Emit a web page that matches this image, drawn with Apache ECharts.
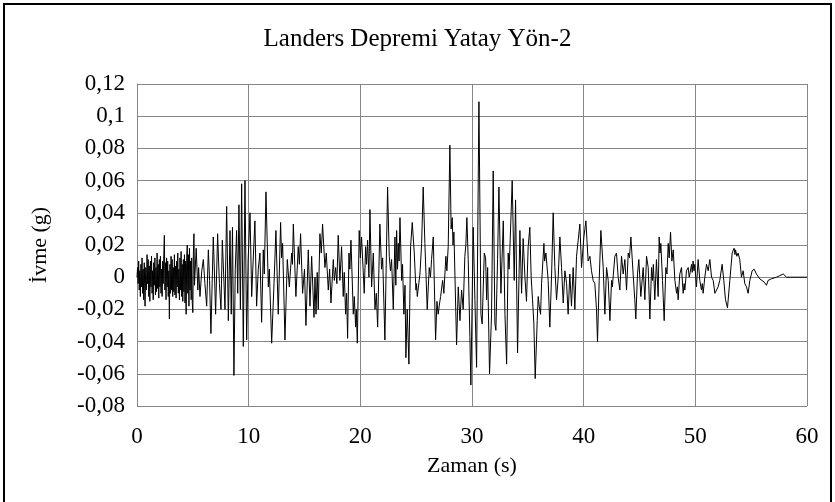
<!DOCTYPE html>
<html>
<head>
<meta charset="utf-8">
<script src="https://cdn.jsdelivr.net/npm/echarts@6/dist/echarts.min.js"></script>
<style>
html,body{margin:0;padding:0;background:#fff;}
#c{width:835px;height:502px;}
</style>
</head>
<body>
<div id="c"></div>
<script>
var titleText = "Landers Depremi Yatay Yön-2";
var xName = "Zaman (s)";
var yName = "İvme (g)";
var xTicks = [0, 10, 20, 30, 40, 50, 60];
var yTicks = [-0.08, -0.06, -0.04, -0.02, 0, 0.02, 0.04, 0.06, 0.08, 0.1, 0.12];

var time = [
0.00,0.05,0.10,0.15,0.20,0.25,0.30,0.35,0.40,0.45,0.50,0.55,0.60,0.65,0.72,0.78,0.85,0.90,0.95,1.00,
1.05,1.10,1.15,1.20,1.25,1.30,1.35,1.40,1.45,1.50,1.55,1.60,1.65,1.70,1.75,1.80,1.85,1.90,1.95,2.00,
2.05,2.10,2.15,2.20,2.25,2.30,2.35,2.40,2.45,2.50,2.55,2.60,2.65,2.70,2.75,2.80,2.85,2.90,2.95,3.00,
3.05,3.10,3.15,3.20,3.25,3.30,3.35,3.40,3.45,3.50,3.55,3.60,3.65,3.70,3.75,3.80,3.85,3.90,3.95,4.00,
4.05,4.10,4.15,4.20,4.25,4.30,4.35,4.40,4.45,4.50,4.55,4.60,4.65,4.70,4.75,4.80,4.85,4.90,4.95,5.00,
5.05,5.10,5.15,5.30,5.45,5.52,5.64,5.80,5.94,6.08,6.24,6.39,6.50,6.62,6.83,6.94,7.04,7.22,7.38,7.52,
7.64,7.76,7.88,8.03,8.18,8.33,8.44,8.55,8.68,8.80,8.92,9.02,9.13,9.26,9.37,9.52,9.67,9.82,9.95,10.12,
10.27,10.40,10.56,10.71,10.86,11.01,11.16,11.31,11.40,11.55,11.76,11.85,12.06,12.27,12.44,12.65,12.86,12.95,13.04,13.25,
13.46,13.64,13.85,13.92,14.00,14.23,14.44,14.54,14.65,14.83,15.00,15.13,15.34,15.49,15.64,15.85,15.94,16.03,16.14,16.23,
16.38,16.50,16.62,16.83,16.95,17.13,17.25,17.37,17.58,17.67,17.79,17.90,18.02,18.17,18.32,18.47,18.56,18.68,18.77,18.86,
18.98,19.06,19.16,19.37,19.46,19.58,19.64,19.73,19.90,20.00,20.11,20.35,20.47,20.56,20.65,20.77,20.86,21.01,21.16,21.31,
21.43,21.55,21.75,21.90,22.00,22.20,22.44,22.59,22.70,22.80,22.95,23.10,23.18,23.25,23.33,23.40,23.47,23.55,23.70,23.78,
23.90,24.00,24.08,24.20,24.35,24.50,24.65,24.83,24.98,25.03,25.10,25.34,25.49,25.63,25.78,25.99,26.17,26.28,26.38,26.53,
26.74,26.86,26.97,27.10,27.19,27.37,27.48,27.66,27.75,27.87,28.02,28.13,28.23,28.30,28.38,28.62,28.77,28.92,29.07,29.21,
29.36,29.45,29.54,29.66,29.81,29.90,30.11,30.26,30.41,30.62,30.80,30.91,31.10,31.22,31.31,31.40,31.57,31.75,31.90,32.05,
32.14,32.29,32.41,32.59,32.80,32.95,33.10,33.24,33.32,33.39,33.60,33.78,33.90,34.08,34.29,34.44,34.58,34.74,34.88,35.03,
35.18,35.30,35.42,35.54,35.66,35.84,35.93,36.02,36.14,36.23,36.44,36.50,36.62,36.82,36.97,37.13,37.27,37.42,37.57,37.72,
37.87,38.02,38.17,38.32,38.47,38.61,38.76,38.91,39.06,39.21,39.36,39.51,39.66,39.81,40.02,40.20,40.40,40.56,40.70,40.85,
41.00,41.15,41.24,41.39,41.54,41.75,41.90,42.05,42.20,42.35,42.50,42.57,42.64,42.79,42.94,43.09,43.24,43.39,43.54,43.69,
43.84,43.99,44.10,44.23,44.43,44.58,44.67,44.82,44.94,45.12,45.33,45.48,45.63,45.78,45.93,46.08,46.16,46.24,46.37,46.52,
46.67,46.76,46.84,46.91,47.06,47.21,47.36,47.46,47.57,47.66,47.78,47.90,48.02,48.17,48.32,48.40,48.46,48.61,48.76,48.91,
49.00,49.06,49.21,49.36,49.45,49.51,49.66,49.72,49.80,49.88,49.95,50.10,50.25,50.40,50.55,50.62,50.70,50.85,51.00,51.15,
51.30,51.45,51.60,51.75,51.90,52.04,52.19,52.40,52.55,52.70,52.88,53.09,53.30,53.47,53.55,53.60,53.72,53.83,53.98,54.13,
54.28,54.43,54.58,54.73,54.88,55.09,55.27,55.47,55.62,55.77,55.92,56.16,56.37,56.52,56.82,57.27,57.57,57.87,58.17,58.50,
59.00,60.00
];

var accel = [
0.000,0.006,-0.004,0.010,-0.008,0.004,-0.012,0.008,-0.006,0.012,-0.010,0.005,-0.014,0.009,-0.018,0.006,-0.008,0.014,-0.004,0.011,
-0.012,0.007,-0.015,0.010,-0.006,0.013,-0.010,0.004,-0.014,0.009,-0.005,0.012,-0.011,0.006,-0.009,0.015,-0.007,0.008,-0.013,0.011,
-0.006,0.013,-0.010,0.005,-0.012,0.010,-0.004,0.014,0.026,-0.008,0.009,-0.014,0.012,-0.006,0.010,-0.012,0.004,-0.026,0.008,-0.010,
0.013,-0.008,0.011,-0.012,0.006,-0.009,0.014,-0.011,0.007,-0.013,0.010,-0.006,0.015,-0.010,0.005,-0.014,0.012,-0.008,0.016,-0.012,
0.008,-0.015,0.011,-0.009,0.014,-0.016,0.010,-0.023,0.012,0.020,-0.010,0.014,-0.018,0.018,-0.008,0.010,-0.014,0.012,-0.016,-0.022,
0.015,0.027,-0.005,0.018,-0.008,0.006,-0.012,0.004,0.011,-0.004,-0.018,0.017,-0.002,-0.035,0.025,0.002,-0.023,0.027,-0.004,-0.020,
0.023,0.002,-0.020,0.044,-0.027,0.029,-0.023,0.031,-0.061,0.005,0.029,-0.010,0.045,-0.020,0.058,-0.043,0.060,-0.039,0.010,0.040,
-0.012,0.010,0.035,-0.018,0.005,0.015,-0.028,0.017,0.002,0.053,-0.006,0.005,-0.041,-0.004,0.029,-0.023,0.034,0.012,0.021,-0.039,
0.011,-0.006,0.015,0.008,0.033,-0.012,0.019,0.008,0.027,-0.010,0.005,-0.030,0.017,-0.018,0.013,-0.025,0.000,-0.023,0.003,-0.020,
0.027,0.015,0.033,0.006,0.015,-0.008,0.005,-0.016,0.011,-0.002,0.006,-0.004,0.026,-0.002,0.019,-0.012,0.003,-0.023,-0.010,-0.038,
0.015,0.005,0.023,-0.023,-0.012,-0.031,-0.020,-0.041,0.029,0.012,0.025,-0.010,0.019,0.008,0.023,0.000,0.042,-0.006,0.015,-0.020,
-0.010,-0.031,0.033,0.005,0.012,-0.039,0.056,0.013,0.004,0.011,-0.020,0.025,-0.005,0.029,0.005,0.021,0.010,0.037,-0.002,0.008,
-0.023,-0.005,-0.050,-0.020,-0.054,0.019,0.034,0.015,-0.008,-0.004,-0.012,0.002,0.021,0.056,0.021,-0.020,0.006,0.000,0.011,0.025,
-0.039,-0.015,-0.023,-0.016,-0.012,-0.002,-0.010,0.013,0.004,0.019,0.082,0.030,0.037,0.020,0.028,-0.042,-0.006,-0.027,-0.008,-0.020,
0.013,0.020,0.037,0.011,-0.037,-0.067,0.031,-0.014,-0.056,0.109,-0.023,-0.029,0.015,0.012,-0.014,0.006,-0.060,-0.023,0.066,-0.029,
-0.033,0.011,0.056,-0.010,0.035,-0.023,-0.054,0.015,0.005,0.017,0.060,-0.002,0.048,-0.047,0.029,-0.010,0.024,0.000,-0.015,0.019,
0.031,0.000,-0.014,-0.029,-0.063,-0.027,-0.012,-0.018,-0.023,-0.004,0.021,0.010,0.015,-0.002,-0.031,0.002,0.040,0.006,-0.014,0.000,
0.025,0.006,-0.016,0.004,-0.004,-0.023,0.002,-0.018,0.006,-0.020,0.013,0.023,0.033,0.006,0.025,0.035,0.010,0.013,0.004,-0.002,
-0.004,-0.020,-0.040,-0.002,0.029,0.006,-0.023,0.006,-0.002,-0.027,-0.002,-0.006,0.000,0.013,0.015,0.000,-0.008,0.013,0.002,0.011,
-0.008,0.015,0.012,0.025,0.002,-0.014,-0.026,0.002,0.011,-0.012,0.006,-0.014,0.013,0.006,-0.026,0.006,-0.002,0.008,-0.014,0.011,
-0.012,0.025,0.015,0.021,-0.002,-0.027,0.006,0.002,0.021,0.012,0.028,0.010,0.017,-0.002,-0.010,-0.006,-0.014,0.002,0.006,-0.010,
-0.004,-0.008,0.004,0.006,0.000,0.002,0.008,0.003,0.010,0.004,0.008,-0.006,0.011,-0.002,-0.008,-0.004,-0.010,0.000,0.008,0.004,
0.011,0.000,-0.002,-0.010,-0.010,-0.006,-0.002,0.008,-0.002,-0.014,-0.019,-0.002,0.015,0.018,0.014,0.017,0.013,0.015,0.011,0.000,
0.004,-0.004,-0.006,-0.010,-0.002,0.004,0.005,0.002,0.001,-0.001,-0.002,-0.003,-0.005,-0.002,-0.001,0.000,0.001,0.002,0.000,0.000,
0.000,0.000
];

var seriesData = [];
for (var i = 0; i < time.length && i < accel.length; i++) {
  seriesData.push([time[i], accel[i]]);
}

function fmtY(v) {
  var s = String(Number(v.toFixed(2)));
  return s.replace('.', ',');
}

var chart = echarts.init(document.getElementById('c'), null, {renderer: 'canvas'});
var serif = '"Liberation Serif", "Times New Roman", "DejaVu Serif", serif';
chart.setOption({
  animation: false,
  backgroundColor: '#fff',
  textStyle: {fontFamily: serif, color: '#000'},
  title: {
    text: titleText,
    left: 'center',
    top: 22,
    textStyle: {fontFamily: serif, fontSize: 25, fontWeight: 'normal', color: '#000'}
  },
  grid: {left: 137, right: 28, top: 84, bottom: 96, containLabel: false},
  xAxis: {
    type: 'value',
    min: xTicks[0],
    max: xTicks[xTicks.length - 1],
    interval: 10,
    name: xName,
    nameLocation: 'middle',
    nameGap: 49,
    nameTextStyle: {fontFamily: serif, fontSize: 22, color: '#000'},
    axisLine: {show: true, lineStyle: {color: '#868686', width: 1}},
    axisTick: {show: false},
    axisLabel: {fontFamily: serif, fontSize: 23, color: '#000', margin: 19},
    splitLine: {show: true, lineStyle: {color: '#868686', width: 1}}
  },
  yAxis: {
    type: 'value',
    min: yTicks[0],
    max: yTicks[yTicks.length - 1],
    interval: 0.02,
    name: yName,
    nameLocation: 'middle',
    nameGap: 86,
    nameRotate: 90,
    nameTextStyle: {fontFamily: serif, fontSize: 22, color: '#000'},
    axisLine: {show: true, lineStyle: {color: '#868686', width: 1}},
    axisTick: {show: false},
    axisLabel: {fontFamily: serif, fontSize: 23, color: '#000', margin: 12, formatter: fmtY},
    splitLine: {show: true, lineStyle: {color: '#868686', width: 1}}
  },
  graphic: [{
    type: 'rect',
    shape: {x: 4, y: 4, width: 827, height: 500},
    style: {fill: 'none', stroke: '#000', lineWidth: 2},
    silent: true
  }],
  series: [{
    type: 'line',
    data: seriesData,
    showSymbol: false,
    symbol: 'none',
    lineStyle: {color: '#000', width: 1},
    z: 3
  }]
});
</script>
</body>
</html>
